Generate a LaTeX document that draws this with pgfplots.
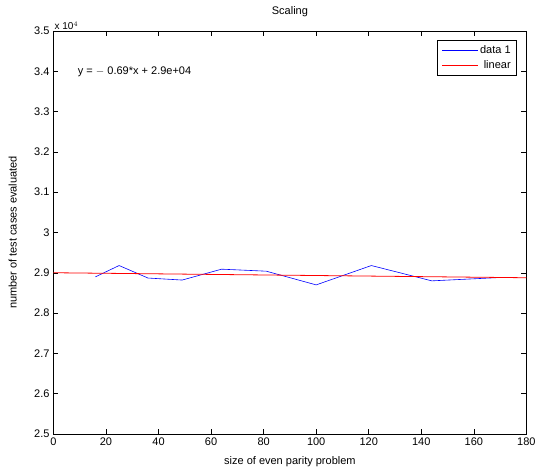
\documentclass[border=0pt]{standalone}
\usepackage{pgfplots}
\pgfplotsset{compat=1.18}
\usepackage{fontspec}
\setmainfont{Liberation Sans}
\begin{document}
\fontsize{11bp}{13bp}\selectfont
\begin{tikzpicture}
\useasboundingbox (0,0) rectangle (537bp,469bp);
\begin{axis}[
  at={(53.4bp,35bp)}, anchor=south west,
  scale only axis, width=473bp, height=403bp,
  xmin=0, xmax=180, ymin=25000, ymax=35000,
  xtick={0,20,...,180},
  ytick={25000,26000,...,35000},
  scaled y ticks=base 10:-4,
  ytick scale label code/.code={},
  /pgf/number format/assume math mode=true,
  yticklabel style={/pgf/number format/fixed, /pgf/number format/precision=1},
  tick label style={font=\fontsize{11bp}{13bp}\selectfont},
  label style={font=\fontsize{11bp}{13bp}\selectfont},
  major tick length=5bp,
  tick style={black, line width=0.5pt},
  axis line style={line width=0.6pt},
  title={Scaling},
  title style={font=\fontsize{11bp}{13bp}\selectfont, yshift=4bp},
  xlabel={size of even parity problem},
  xlabel style={yshift=-3bp},
  ylabel={number of test cases evaluated},
  ylabel style={yshift=10bp},
  cycle list={{blue, line width=0.6pt, mark=none},{red, line width=0.8pt, mark=none}},
  legend style={at={(0.98,0.978)}, anchor=north east, draw=black, line width=0.5pt,
    font=\fontsize{11bp}{13bp}\selectfont, inner xsep=4bp, inner ysep=3bp, row sep=2bp},
  legend cell align=right,
  legend image post style={xscale=2.1},
]
\addplot coordinates {
(16,28900) (25,29180) (36,28870) (49,28820) (64,29090) (81,29040)
(100,28700) (121,29180) (144,28800) (169,28880)};
\addlegendentry{data 1}
\addplot coordinates {(0,29001.5) (180,28877.3)};
\addlegendentry{linear}
\end{axis}
\node[anchor=west, font=\fontsize{11bp}{13bp}\selectfont] at (74bp,397bp) {y = $-$ 0.69*x + 2.9e+04};
\node[anchor=south west, font=\fontsize{10bp}{12bp}\selectfont, inner sep=1bp] at (53.4bp,438bp) {x 10$^{4}$};
\end{tikzpicture}
\end{document}
